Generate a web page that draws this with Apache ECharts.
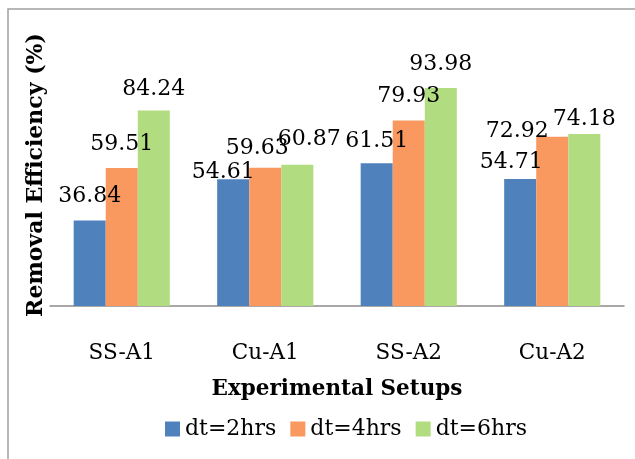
<!DOCTYPE html>
<html>
<head>
<meta charset="utf-8">
<script src="https://cdn.jsdelivr.net/npm/echarts@6/dist/echarts.min.js"></script>
<style>
  html, body { margin: 0; padding: 0; background: #fff; }
  #chart { width: 635px; height: 459px; }
</style>
</head>
<body>
<div id="chart"></div>
<script>
// Removal efficiency per setup and dwell time
const setups = ['SS-A1', 'Cu-A1', 'SS-A2', 'Cu-A2'];
const seriesNames = ['dt=2hrs', 'dt=4hrs', 'dt=6hrs'];
const dt2 = [36.84, 54.61, 61.51, 54.71];
const dt4 = [59.51, 59.63, 79.93, 72.92];
const dt6 = [84.24, 60.87, 93.98, 74.18];

const colors = ['#4F81BD', '#F9995F', '#B1DC80'];
// Hand-placed label nudges [dx, dy] per series, per setup
const labelNudge = [
  [[0, 0], [-10, 17], [0, 2], [-9, 7]],
  [[0, 0], [-8, 5], [0, 0], [-35, 18]],
  [[0, 3], [12, -2], [0, 0], [0, 9]]
];

const FONT = 'DejaVu Serif';
const seriesData = [dt2, dt4, dt6];

const chart = echarts.init(document.getElementById('chart'), null, { renderer: 'canvas' });

const series = seriesData.map((vals, si) => ({
  name: seriesNames[si],
  type: 'bar',
  barGap: '0%',
  barCategoryGap: '33%',
  itemStyle: { color: colors[si] },
  data: vals.map((v, ci) => ({
    value: v,
    label: { offset: labelNudge[si][ci] }
  })),
  label: {
    show: true,
    position: 'top',
    distance: 13,
    fontFamily: FONT,
    fontSize: 22,
    color: '#000',
    formatter: p => p.value.toFixed(2)
  }
}));

chart.setOption({
  animation: false,
  backgroundColor: '#fff',
  color: colors,
  graphic: [{
    type: 'rect',
    shape: { x: 8, y: 9, width: 640, height: 470 },
    style: { fill: 'none', stroke: '#A0A0A0', lineWidth: 1.5 },
    silent: true
  }],
  grid: { left: 50, right: 11, top: 74, bottom: 153, containLabel: false },
  xAxis: {
    type: 'category',
    data: setups,
    axisLine: { lineStyle: { color: '#8C8C8C', width: 1.5 } },
    axisTick: { show: false },
    axisLabel: { fontFamily: FONT, fontSize: 21.5, color: '#000', margin: 36 },
    name: 'Experimental Setups',
    nameLocation: 'middle',
    nameGap: 72,
    nameTextStyle: { fontFamily: FONT, fontSize: 21.5, fontWeight: 'bold', color: '#000' }
  },
  yAxis: {
    type: 'value',
    min: 0,
    max: 100,
    axisLine: { show: false },
    axisTick: { show: false },
    axisLabel: { show: false },
    splitLine: { show: false },
    name: 'Removal Efficiency (%)',
    nameLocation: 'middle',
    nameGap: 3,
    nameRotate: 90,
    nameTextStyle: { fontFamily: FONT, fontSize: 22, fontWeight: 'bold', color: '#000', padding: [0, 0, 0, 30] }
  },
  legend: {
    data: seriesNames,
    bottom: 14,
    left: 160,
    itemWidth: 15,
    itemHeight: 15,
    itemGap: 14,
    icon: 'rect',
    textStyle: { fontFamily: FONT, fontSize: 22, color: '#000', padding: [0, 0, 0, 0] }
  },
  series: series
});
</script>
</body>
</html>
